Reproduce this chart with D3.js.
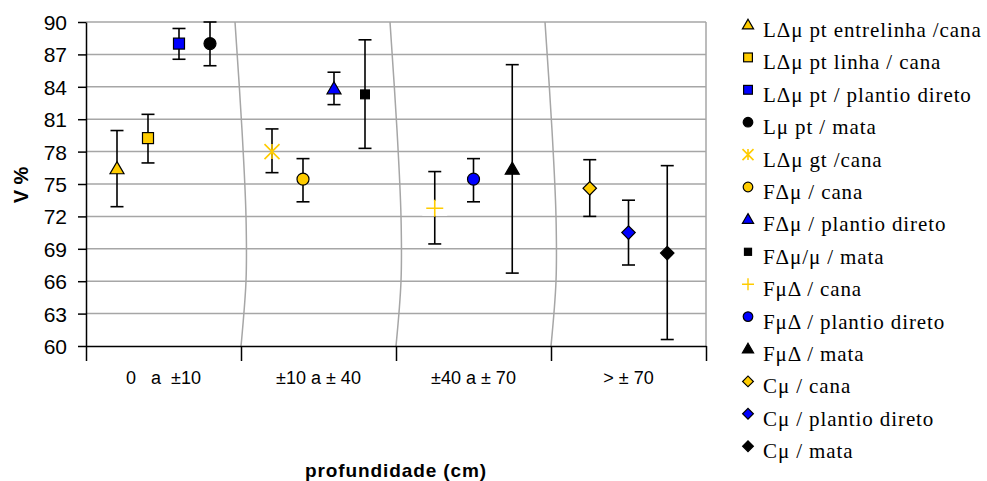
<!DOCTYPE html>
<html><head><meta charset="utf-8">
<script src="https://cdn.jsdelivr.net/npm/d3@7"></script>
<style>body{margin:0;background:#fff}svg{display:block}</style>
</head><body>
<svg id="chart" width="987" height="481"></svg>
<script>
// ---- data ----
const categories = ["0   a  \u00b110", "\u00b110 a \u00b1 40", "\u00b140 a \u00b1 70", "> \u00b1 70"];
const seriesNames = ["L\u0394\u03bc pt entrelinha /cana", "L\u0394\u03bc pt linha / cana", "L\u0394\u03bc pt / plantio direto", "L\u03bc pt / mata",
  "L\u0394\u03bc gt /cana", "F\u0394\u03bc / cana", "F\u0394\u03bc / plantio direto", "F\u0394\u03bc/\u03bc / mata",
  "F\u03bc\u0394 / cana", "F\u03bc\u0394 / plantio direto", "F\u03bc\u0394 / mata",
  "C\u03bc / cana", "C\u03bc / plantio direto", "C\u03bc / mata"];
const seriesCategory = [0,0,0,0, 1,1,1,1, 2,2,2, 3,3,3];
const seriesValue = [76.4, 79.25, 88.0, 88.0, 78.0, 75.45, 83.8, 83.3, 72.75, 75.45, 76.35, 74.6, 70.5, 68.6];
const seriesLow   = [72.9, 76.95, 86.55, 85.95, 76.05, 73.35, 82.35, 78.3, 69.45, 73.35, 66.75, 72.0, 67.5, 60.6];
const seriesHigh  = [79.95, 81.45, 89.4, 90.0, 80.1, 77.35, 85.35, 88.35, 76.15, 77.35, 86.05, 77.25, 73.5, 76.7];
const yTicks = [60, 63, 66, 69, 72, 75, 78, 81, 84, 87, 90];

// ---- styles ----
const Y = "#FFCC00", B = "#0000FF", K = "#000000";
const seriesShape = ["triangle","square","square","circle","star","circle","triangle","square","plus","circle","triangle","diamond","diamond","diamond"];
const seriesFill  = [Y, Y, B, K, Y, Y, B, K, Y, B, K, Y, B, K];
const shapeSize = {triangle: 14, square: 11, circle: 12, diamond: 9.5, star: 15, plus: 17};
const seriesScale = [1,1,1,1,1,1,1,0.8,1,1,1,1,1,1];

const svg = d3.select("#chart");
const m = {left: 86, top: 22, right: 706, bottom: 346};
const x = d3.scaleBand().domain(d3.range(categories.length)).range([m.left, m.right]);
const y = d3.scaleLinear().domain([60, 90]).range([m.bottom, m.top]);

const perCat = d3.rollup(seriesCategory.map((c,i)=>({c,i})), v=>v.map(d=>d.i), d=>d.c);
function xPos(i){
  const c = seriesCategory[i];
  const members = perCat.get(c);
  const k = members.indexOf(i);
  return x(c) + x.bandwidth() * (k + 1) / (members.length + 1);
}

// gridlines
svg.append("g").selectAll("line").data(yTicks.filter(t=>t>60)).join("line")
  .attr("x1", m.left).attr("x2", m.right)
  .attr("y1", d=>y(d)).attr("y2", d=>y(d))
  .attr("stroke", "#a6a6a6").attr("stroke-width", 1.5);
// right border
svg.append("line").attr("x1", m.right).attr("x2", m.right).attr("y1", m.top).attr("y2", m.bottom)
  .attr("stroke", "#a6a6a6").attr("stroke-width", 1.5);

// curved separators (decorative)
const sepShape = [{v:90,dx:-6},{v:80,dx:1},{v:72,dx:5},{v:66,dx:5},{v:60,dx:0}];
const sepLine = d3.line().x(d=>d[0]).y(d=>d[1]).curve(d3.curveCatmullRom);
for (let c = 1; c < categories.length; c++) {
  svg.append("path").attr("d", sepLine(sepShape.map(p=>[x(c)+p.dx, y(p.v)])))
    .attr("fill","none").attr("stroke","#a6a6a6").attr("stroke-width",1.5);
}

// y axis
const yAxis = svg.append("g").attr("transform", `translate(${m.left},0)`)
  .call(d3.axisLeft(y).tickValues(yTicks).tickSize(8).tickSizeOuter(0));
yAxis.select(".domain").attr("stroke","#000").attr("stroke-width",1.5);
yAxis.selectAll(".tick line").attr("stroke","#000").attr("stroke-width",1.5);
yAxis.selectAll("text").attr("font-family","'Liberation Sans', Arial, sans-serif")
  .attr("font-size", 21).attr("fill","#000").attr("x", -19).attr("dy","0.36em");

// x axis
const xb = d3.scaleLinear().domain([0, categories.length]).range([m.left, m.right]);
const xAxis = svg.append("g").attr("transform", `translate(0,${m.bottom})`)
  .call(d3.axisBottom(xb).tickValues(d3.range(categories.length+1)).tickFormat("").tickSize(15).tickSizeOuter(0));
xAxis.select(".domain").attr("stroke","#000").attr("stroke-width",1.5);
xAxis.selectAll(".tick line").attr("stroke","#000").attr("stroke-width",1.5);
svg.append("g").selectAll("text").data(categories).join("text")
  .attr("x", (d,i)=>x(i)+x.bandwidth()/2).attr("y", 384)
  .attr("text-anchor","middle").attr("font-family","'Liberation Sans', Arial, sans-serif")
  .attr("font-size", 18).attr("xml:space","preserve").style("white-space","pre").text(d=>d);

// axis titles
svg.append("text").attr("x", (m.left+m.right)/2).attr("y", 477).attr("text-anchor","middle")
  .attr("font-family","'Liberation Sans', Arial, sans-serif").attr("font-weight","bold").attr("font-size",19)
  .attr("letter-spacing", 0.9).text("profundidade (cm)");
svg.append("text").attr("transform", `translate(28,185) rotate(-90)`).attr("text-anchor","middle")
  .attr("font-family","'Liberation Sans', Arial, sans-serif").attr("font-weight","bold").attr("font-size",20)
  .text("V %");

// marker drawing
function drawMarker(g, shape, fill, s) {
  if (shape === "triangle") {
    const h = s * Math.sqrt(3) / 2;
    g.append("path").attr("d", `M0,${-h*0.6}L${s/2},${h*0.4}L${-s/2},${h*0.4}Z`)
      .attr("fill", fill).attr("stroke","#000").attr("stroke-width",1.2);
  } else if (shape === "square") {
    g.append("rect").attr("x",-s/2).attr("y",-s/2).attr("width",s).attr("height",s)
      .attr("fill", fill).attr("stroke","#000").attr("stroke-width",1.2);
  } else if (shape === "circle") {
    g.append("circle").attr("r", s/2).attr("fill", fill).attr("stroke","#000").attr("stroke-width",1.2);
  } else if (shape === "diamond") {
    g.append("rect").attr("x",-s/2).attr("y",-s/2).attr("width",s).attr("height",s)
      .attr("transform","rotate(45)").attr("fill", fill).attr("stroke","#000").attr("stroke-width",1.2);
  } else if (shape === "star") {
    const r = s/2;
    g.append("path").attr("d", `M${-r},${-r}L${r},${r}M${r},${-r}L${-r},${r}M0,${-r}L0,${r}`)
      .attr("stroke", fill).attr("stroke-width", 1.6);
  } else if (shape === "plus") {
    const r = s/2;
    g.append("rect").attr("x",-r-4).attr("y",-r+1).attr("width",s+8).attr("height",s-2).attr("fill","#fff");
    g.append("path").attr("d", `M${-r},0L${r},0M0,${-r}L0,${r}`)
      .attr("stroke", fill).attr("stroke-width", 1.6);
  }
}

// error bars
const eb = svg.append("g");
seriesValue.forEach((v,i)=>{
  const cx = xPos(i);
  eb.append("line").attr("x1",cx).attr("x2",cx).attr("y1",y(seriesLow[i])).attr("y2",y(seriesHigh[i]))
    .attr("stroke","#000").attr("stroke-width",1.6);
  [seriesLow[i], seriesHigh[i]].forEach(e=>{
    eb.append("line").attr("x1",cx-6.5).attr("x2",cx+6.5).attr("y1",y(e)).attr("y2",y(e))
      .attr("stroke","#000").attr("stroke-width",1.6);
  });
});
// markers
seriesValue.forEach((v,i)=>{
  const g = svg.append("g").attr("transform",`translate(${xPos(i)},${y(v)})`);
  drawMarker(g, seriesShape[i], seriesFill[i], shapeSize[seriesShape[i]] * seriesScale[i]);
});

// legend
const lg = svg.append("g");
seriesNames.forEach((name,i)=>{
  const ly = 29 + i * 32.4;
  const g = lg.append("g").attr("transform",`translate(748,${ly-4})`);
  const shp = seriesShape[i];
  const ls = shp === "plus" ? 12 : shp === "star" ? 11 : shapeSize[shp] * 0.8 * seriesScale[i];
  if (shp === "plus") {
    const r = ls/2;
    g.append("path").attr("d", `M${-r},0L${r},0M0,${-r}L0,${r}`).attr("stroke", seriesFill[i]).attr("stroke-width",1.4);
  } else drawMarker(g, shp, seriesFill[i], ls);
  lg.append("text").attr("x", 763).attr("y", ly + 8).attr("font-family","'Liberation Serif', 'Times New Roman', serif")
    .attr("font-size", 21).attr("letter-spacing", 0.9).attr("fill","#000").text(name);
});
</script>
</body></html>
